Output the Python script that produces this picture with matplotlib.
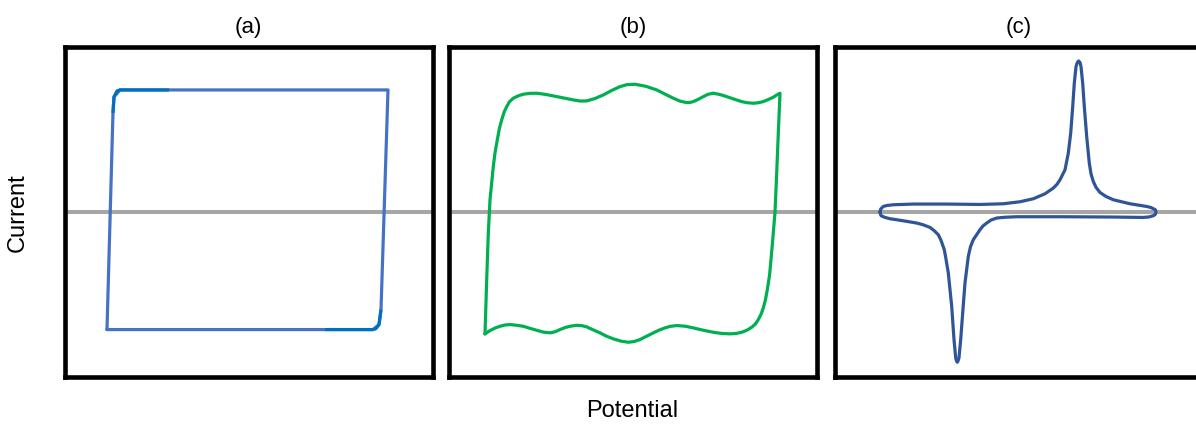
import matplotlib.pyplot as plt

plt.rcParams['font.family'] = ['Liberation Sans', 'DejaVu Sans']

# panel (a) - ideal capacitor, rectangle
a_pot = [42.5, 48.5, 49.5, 55.5, 323.5, 316.5, 314.5, 308.5, 42.5]
a_cur = [-118, 100, 115, 122, 122, -98, -113, -118, -118]
a_pot_dark1 = [48.5, 49.5, 52.5, 55.5, 104.5]
a_cur_dark1 = [99, 115, 121, 122, 122]
a_pot_dark2 = [316.5, 314.5, 311.5, 308.5, 260.5]
a_cur_dark2 = [-98, -113, -117, -118, -118]

# panel (b) - pseudocapacitive, wavy box
b_pot = [36, 41, 46, 51, 56, 61, 67, 74.3, 81, 87.7, 94, 101, 106, 111, 116,
         121, 127.7, 133, 137.7, 144, 151, 157, 164.3, 172, 179.3, 185, 191,
         197, 204.3, 210, 216, 221, 227.7, 236, 244.3, 254, 264.3, 273, 281,
         287, 292.7, 298, 302.7, 306.5, 309.3, 312, 314.3, 316.5, 318.3, 320.5,
         322, 324.3, 326, 327.7, 329.3, 331,
         327.5, 324.3, 319, 314.3, 309, 304.3, 298, 292.7, 285, 277.7, 271,
         264.3, 259, 254.3, 249, 244.3, 241, 237.7, 231, 224.3, 216, 207.7,
         197, 186, 178, 171, 163, 154.3, 146, 137.7, 131, 124.3, 114, 104.3,
         96, 87.7, 81, 74.3, 69, 64.3, 60.5, 57.7, 55, 52.7, 50.3, 48.3, 46,
         44.3, 41, 39.3, 37.7, 36]
b_cur = [-122.3, -119, -116.5, -114.7, -113.4, -113, -113.6, -114.7, -116.8,
         -118.7, -120.5, -121.3, -120.2, -118, -116, -114.7, -113.7, -114.1,
         -115.3, -118.2, -121.3, -124.4, -127.3, -129.6, -130.7, -130, -128,
         -125, -121.3, -118.6, -116.3, -114.8, -114, -114.6, -116.3, -118.6,
         -120.7, -121.9, -122.3, -121.9, -120.7, -118.6, -115.7, -112.3, -108,
         -102.8, -96.3, -88, -78, -64, -48, -21.3, -0.3, 38.7, 78.7, 118.7,
         116.8, 114.7, 112.3, 110.3, 109.1, 108.7, 109.2, 110.3, 112.8, 115.3,
         117.4, 118.7, 117.6, 115.3, 112.4, 110.3, 109.5, 109.3, 110.8, 113.7,
         117.8, 122, 125.6, 127.7, 127.3, 125.3, 121.6, 117, 113.4, 111, 110.9,
         112, 114.1, 116, 117.6, 118.7, 118.6, 117.7, 116, 113.7, 110.2, 105.3,
         99.5, 92, 83, 72, 59, 45.3, 12, -21.3, -68, -122.3]

# panel (c) - battery type, redox peaks
c_pot = [45, 45.7, 48.3, 52, 58.3, 78.3, 111.7, 145, 168.3, 185, 198.3, 210,
         218.3, 222, 225, 230, 233.3, 235.7, 237.7, 239.3, 241, 242.3, 243.7,
         245, 246, 247.7, 249.3, 251.7, 254.3, 256, 258.3, 261, 265, 271,
         278.3, 295, 311.7, 316, 319, 320.3, 321, 320.3, 318.3, 314, 308.3,
         278.3, 228.3, 181.7, 170, 161.7, 156, 151.7, 148, 145, 138.3, 135.5,
         133.3, 130, 127.7, 125.7, 124, 123, 122.3, 121.5, 120.7, 119, 116.7,
         113.3, 111, 109.3, 106, 103.3, 99, 95, 88, 81.7, 71, 61.7, 55, 50,
         46.5, 45.7, 45]
c_cur = [-0.3, 2.7, 5.3, 6.3, 7, 7.7, 7.7, 7.3, 8, 10, 13, 18, 23.7, 27.5, 32,
         42, 58.7, 78.7, 105.3, 128.7, 145.3, 149.5, 151, 149.5, 145.3, 128.7,
         105.3, 75.3, 48.7, 38, 30.3, 24.5, 19.3, 15.3, 12, 8, 5.3, 4.2, 2.7,
         2, -0.3, -2.7, -4, -5.2, -5.7, -5.3, -5, -5, -5.5, -6.3, -8.3, -11.3,
         -14.2, -18, -28, -35, -44.7, -71.3, -101.3, -128, -146.3, -149.5,
         -150.7, -149.5, -146.3, -128, -94.7, -61.3, -47.5, -38, -28.6, -23,
         -18.8, -15.7, -13, -11.3, -9.5, -8, -7, -5.7, -4.2, -3.3, -0.3]

titles = ['(a)', '(b)', '(c)']
lefts = [64.5, 449, 835]

fig = plt.figure(figsize=(11.96, 4.29), dpi=100)
axes = []
for i in range(3):
    ax = fig.add_axes([lefts[i] / 1196, 52.5 / 429, 368 / 1196, 329.5 / 429])
    ax.set_xlim(0, 368)
    ax.set_ylim(-165, 165)
    ax.set_xticks([])
    ax.set_yticks([])
    for s in ax.spines.values():
        s.set_linewidth(3.3)
        s.set_color('black')
    ax.axhline(0, color='#A6A6A6', lw=2.9, zorder=1)
    ax.set_title(titles[i], fontsize=16, pad=10)
    axes.append(ax)

kw = dict(lw=2.3, zorder=2, solid_joinstyle='round', solid_capstyle='round')
axes[0].plot(a_pot, a_cur, color='#4472C4', **kw)
axes[0].plot(a_pot_dark1, a_cur_dark1, color='#0070C0', lw=2.3, zorder=3,
             solid_joinstyle='round', solid_capstyle='butt')
axes[0].plot(a_pot_dark2, a_cur_dark2, color='#0070C0', lw=2.3, zorder=3,
             solid_joinstyle='round', solid_capstyle='butt')
axes[1].plot(b_pot, b_cur, color='#00B050', **kw)
axes[2].plot(c_pot, c_cur, color='#2F5597', **kw)

fig.text(18 / 1196, 1 - 213 / 429, 'Current', rotation=90, fontsize=17,
         ha='center', va='center')
fig.text(632 / 1196, 1 - 411 / 429, 'Potential', fontsize=17,
         ha='center', va='center')

fig.savefig('out.png', dpi=100)
